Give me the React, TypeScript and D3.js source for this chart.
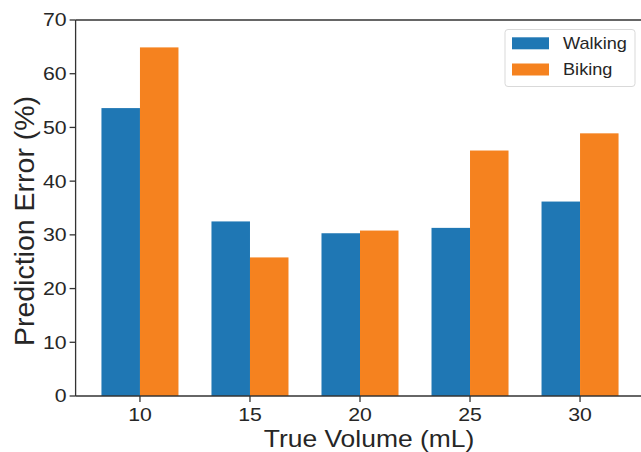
import React from "react";
import * as d3 from "d3";

const WIDTH = 641;
const HEIGHT = 452;
// plot frame (right spine falls outside the picture)
const FRAME = { left: 75.6, right: 644.4, top: 20, bottom: 396 };
// the source image is stretched horizontally, so text is too
const SX = 1.15;
const FONT = "'Liberation Sans', Arial, sans-serif";
const TEXT = "#262626";

const categories = [10, 15, 20, 25, 30];
const walking = [53.6, 32.5, 30.3, 31.3, 36.2];
const biking = [64.9, 25.8, 30.8, 45.7, 48.9];
const yTicks = [0, 10, 20, 30, 40, 50, 60, 70];

const series = [
  { name: "Walking", values: walking, color: "#1f77b4", offset: -0.5 },
  { name: "Biking", values: biking, color: "#f5821f", offset: 0.5 },
];

const BAR_W = 0.35;

export default function App() {
  const x = d3
    .scaleLinear()
    .domain([-0.585, categories.length - 1 + 0.585])
    .range([FRAME.left, FRAME.right]);
  const y = d3.scaleLinear().domain([0, 70]).range([FRAME.bottom, FRAME.top]);
  const barPx = x(BAR_W) - x(0);

  const stretched = (tx: number, ty: number, extra = "", sx = SX) =>
    `translate(${tx},${ty}) scale(${sx},1)${extra}`;

  return (
    <div style={{ position: "absolute", left: 0, top: 0 }}>
      <svg width={WIDTH} height={HEIGHT} style={{ display: "block" }}>
        <rect width={WIDTH} height={HEIGHT} fill="#fff" />

        {/* bars */}
        {series.map((s) =>
          s.values.map((v, i) => {
            const cx = x(i) + s.offset * barPx;
            return (
              <rect
                key={s.name + i}
                x={cx - barPx / 2}
                y={y(v)}
                width={barPx}
                height={y(0) - y(v)}
                fill={s.color}
              />
            );
          })
        )}

        {/* spines */}
        <g stroke="#333" strokeWidth={1.3} fill="none">
          <line x1={FRAME.left} x2={FRAME.left} y1={FRAME.top} y2={FRAME.bottom} />
          <line x1={FRAME.left} x2={FRAME.right} y1={FRAME.bottom} y2={FRAME.bottom} />
          <line x1={FRAME.left} x2={FRAME.right} y1={FRAME.top} y2={FRAME.top} />
          <line x1={FRAME.right} x2={FRAME.right} y1={FRAME.top} y2={FRAME.bottom} />
        </g>

        {/* y axis */}
        {yTicks.map((t) => (
          <g key={"y" + t}>
            <line
              x1={FRAME.left - 6}
              x2={FRAME.left}
              y1={y(t)}
              y2={y(t)}
              stroke="#333"
              strokeWidth={1.3}
            />
            <g transform={stretched(FRAME.left - 9, y(t))}>
              <text
                textAnchor="end"
                dominantBaseline="central"
                fontFamily={FONT}
                fontSize={18.5}
                fill={TEXT}
              >
                {t}
              </text>
            </g>
          </g>
        ))}

        {/* x axis */}
        {categories.map((c, i) => (
          <g key={"x" + c}>
            <line
              x1={x(i)}
              x2={x(i)}
              y1={FRAME.bottom}
              y2={FRAME.bottom + 6}
              stroke="#333"
              strokeWidth={1.3}
            />
            <g transform={stretched(x(i), 421)}>
              <text textAnchor="middle" fontFamily={FONT} fontSize={18.5} fill={TEXT}>
                {c}
              </text>
            </g>
          </g>
        ))}

        {/* axis labels */}
        <g transform={stretched(369, 446.5)}>
          <text textAnchor="middle" fontFamily={FONT} fontSize={23} fill={TEXT}>
            True Volume (mL)
          </text>
        </g>
        <g transform={stretched(34, 221, " rotate(-90)", 1)}>
          <text textAnchor="middle" fontFamily={FONT} fontSize={28.5} fill={TEXT}>
            Prediction Error (%)
          </text>
        </g>

        {/* legend */}
        <rect
          x={505}
          y={29.5}
          width={130}
          height={57}
          rx={3}
          fill="#fff"
          fillOpacity={0.8}
          stroke="#d9d9d9"
          strokeWidth={1}
        />
        {series.map((s, i) => (
          <g key={"lg" + s.name}>
            <rect x={512} y={37.3 + i * 26.2} width={37} height={12} fill={s.color} />
            <g transform={stretched(563, 49.3 + i * 26)}>
              <text fontFamily={FONT} fontSize={15.8} fill={TEXT}>
                {s.name}
              </text>
            </g>
          </g>
        ))}
      </svg>
    </div>
  );
}
